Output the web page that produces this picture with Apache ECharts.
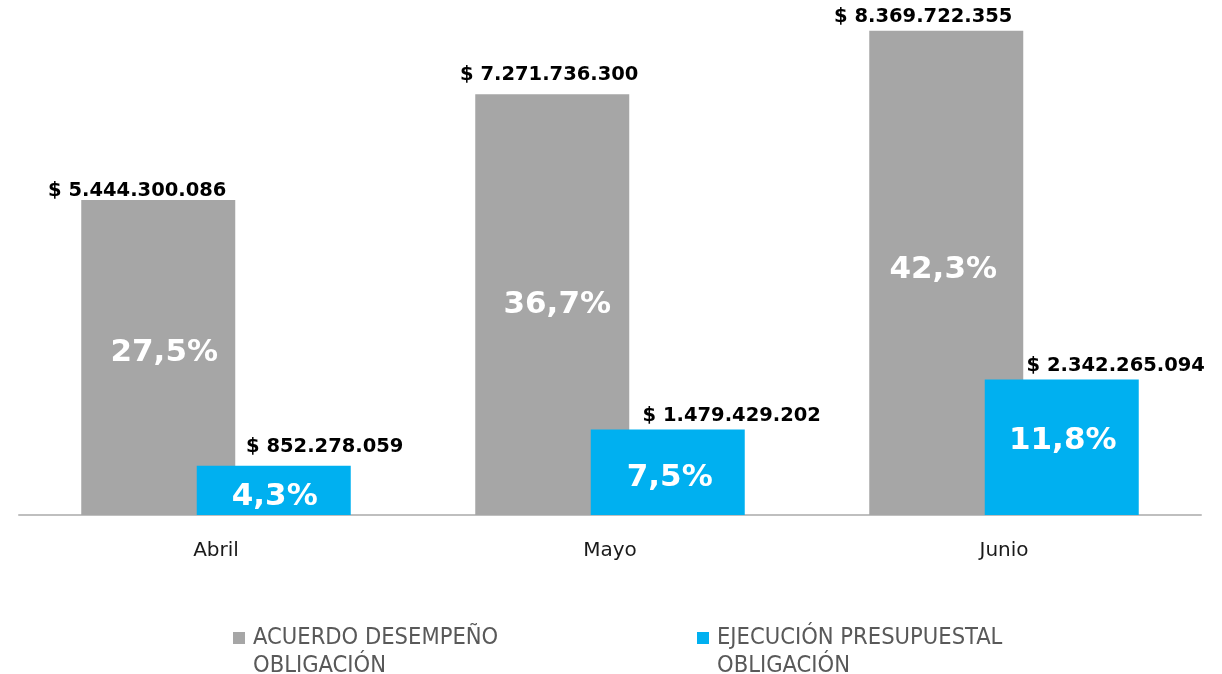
<!DOCTYPE html>
<html>
<head>
<meta charset="utf-8">
<script src="https://cdn.jsdelivr.net/npm/echarts@6/dist/echarts.min.js"></script>
<style>
  html, body { margin: 0; padding: 0; background: #fff; }
  #chart { width: 1222px; height: 674px; }
</style>
</head>
<body>
<div id="chart"></div>
<script>
// data
const categories = ['Abril', 'Mayo', 'Junio']
const acuerdoValores = [5444300086, 7271736300, 8369722355]
const ejecucionValores = [852278059, 1479429202, 2342265094]
const acuerdoPct = [27.5, 36.7, 42.3]
const ejecucionPct = [4.3, 7.5, 11.8]
const serieNames = ['ACUERDO DESEMPEÑO OBLIGACIÓN', 'EJECUCIÓN PRESUPUESTAL OBLIGACIÓN']

// label nudges (layout only, as in the original slide)
const acuerdoTopShift = [[-21, 1], [-3, -9], [-23, -4]]
const ejecucionTopShift = [[51, -9], [64, -3], [54, -4]]
const acuerdoInShift = [[6, -5], [5, 0], [-3, -3]]
const ejecucionInShift = [[1, 7], [2, 6], [1, -6]]

const GRAY = '#A6A6A6'
const BLUE = '#00B0F0'
const FONT = "'DejaVu Sans', Verdana, sans-serif"

function money(v) {
  return '$ ' + String(v).replace(/\B(?=(\d{3})+(?!\d))/g, '.')
}
function pct(v) {
  return v.toFixed(1).replace('.', ',') + '%'
}

function barData(values, pcts, shifts) {
  return values.map((v, i) => ({
    value: v,
    label: { offset: shifts[i], formatter: pct(pcts[i]) }
  }))
}
function topData(values, shifts) {
  return values.map((v, i) => ({
    value: 0,
    label: { offset: shifts[i], formatter: money(v) }
  }))
}

const insideLabel = {
  show: true,
  position: 'inside',
  color: '#fff',
  fontFamily: FONT,
  fontWeight: 'bold',
  fontSize: 31
}
const topLabel = {
  show: true,
  position: 'top',
  distance: 0,
  color: '#000',
  fontFamily: FONT,
  fontWeight: 'bold',
  fontSize: 19.5
}

const chart = echarts.init(document.getElementById('chart'))
chart.setOption({
  animation: false,
  grid: { left: 19, right: 21, top: 0, bottom: 159, containLabel: false, outerBoundsMode: 'none' },
  legend: {
    data: serieNames,
    left: 233,
    top: 596,
    padding: 0,
    itemWidth: 12,
    itemHeight: 12,
    itemGap: 14,
    icon: 'rect',
    // empty first line keeps the marker level with the first text line
    formatter: name => '\n' + name.replace(' OBLIGACIÓN', '\nOBLIGACIÓN'),
    textStyle: {
      color: '#595959',
      fontFamily: "'DejaVu Sans Condensed', 'DejaVu Sans', sans-serif",
      fontSize: 23.5,
      lineHeight: 28,
      width: 430,
      padding: [0, 0, 0, 3]
    }
  },
  xAxis: {
    type: 'category',
    data: categories,
    axisLine: { lineStyle: { color: '#BFBFBF', width: 2 } },
    axisTick: { show: false },
    axisLabel: { color: '#1a1a1a', fontFamily: FONT, fontSize: 20, margin: 26 }
  },
  yAxis: {
    type: 'value',
    min: 0,
    max: 8.9e9,
    show: false,
    splitLine: { show: false }
  },
  series: [
    {
      name: serieNames[0],
      type: 'bar',
      stack: 'acuerdo',
      barWidth: 154,
      barGap: '-25%',
      itemStyle: { color: GRAY },
      label: insideLabel,
      data: barData(acuerdoValores, acuerdoPct, acuerdoInShift)
    },
    {
      name: 'acuerdoTop',
      type: 'bar',
      stack: 'acuerdo',
      barWidth: 154,
      itemStyle: { color: GRAY },
      label: topLabel,
      data: topData(acuerdoValores, acuerdoTopShift)
    },
    {
      name: serieNames[1],
      type: 'bar',
      stack: 'ejecucion',
      barWidth: 154,
      barGap: '-25%',
      itemStyle: { color: BLUE },
      label: insideLabel,
      data: barData(ejecucionValores, ejecucionPct, ejecucionInShift)
    },
    {
      name: 'ejecucionTop',
      type: 'bar',
      stack: 'ejecucion',
      barWidth: 154,
      itemStyle: { color: BLUE },
      label: topLabel,
      data: topData(ejecucionValores, ejecucionTopShift)
    }
  ]
})
</script>
</body>
</html>
